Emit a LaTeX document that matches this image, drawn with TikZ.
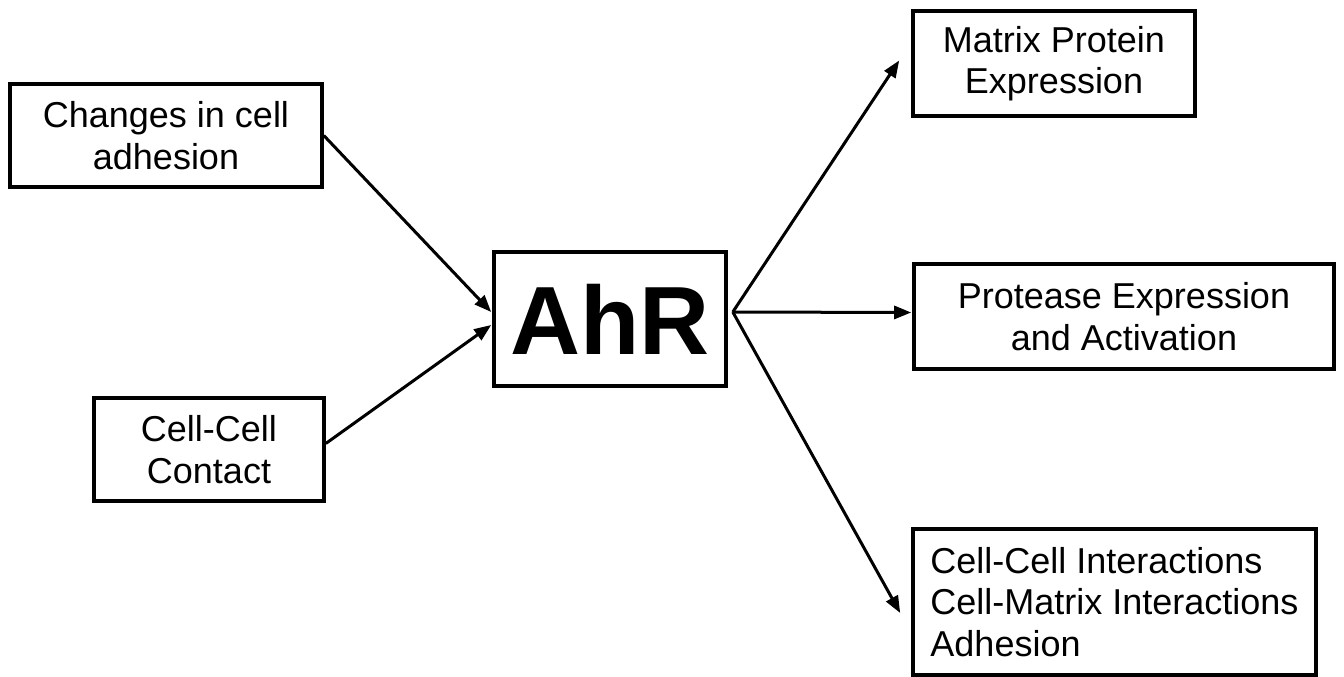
\documentclass[tikz,border=0pt]{standalone}
\usepackage{fontspec}
\setmainfont{Liberation Sans}
\usetikzlibrary{arrows.meta}
\begin{document}
\begin{tikzpicture}[x=1pt,y=-1pt,
  box/.style={draw=black,line width=3.6pt,inner sep=0pt,align=center,
    font=\fontsize{36}{41.5}\selectfont},
  arr/.style={line width=3pt,-{Triangle[length=17pt,width=13pt]}}]
\useasboundingbox (0,0) rectangle (1344,677);
\node[box,minimum width=312pt,minimum height=103pt] (b1) at (166,135.5) {Changes in cell\\adhesion};
\node[box,minimum width=230pt,minimum height=103pt] (b2) at (209,449.5) {Cell-Cell\\Contact};
\node[box,minimum width=232pt,minimum height=134pt,font=\fontsize{97}{110}\selectfont\bfseries] (ahr) at (610,319) {AhR};
\node[box,minimum width=282pt,minimum height=105pt] (mp) at (1054,63.5) {Matrix Protein\\Expression};
\node[box,minimum width=420pt,minimum height=105pt] (pr) at (1124,316.5) {Protease Expression\\and Activation};
\node[box,minimum width=403pt,minimum height=146pt,align=left] (cc) at (1114.5,602) {Cell-Cell Interactions\\Cell-Matrix Interactions\\Adhesion};
\draw[arr] (b1.east) -- ([xshift=-1pt,yshift=7pt]ahr.west);
\draw[arr] ([yshift=6pt]b2.east) -- ([xshift=-1pt,yshift=-6pt]ahr.west);
\draw[arr] ([xshift=5pt,yshift=7pt]ahr.east) -- ([xshift=-12pt,yshift=3pt]mp.west);
\draw[arr] ([xshift=5pt,yshift=7pt]ahr.east) -- ([xshift=-1pt,yshift=4pt]pr.west);
\draw[arr] ([xshift=5pt,yshift=7pt]ahr.east) -- ([xshift=-11pt,yshift=-11pt]cc.west);
\end{tikzpicture}
\end{document}
